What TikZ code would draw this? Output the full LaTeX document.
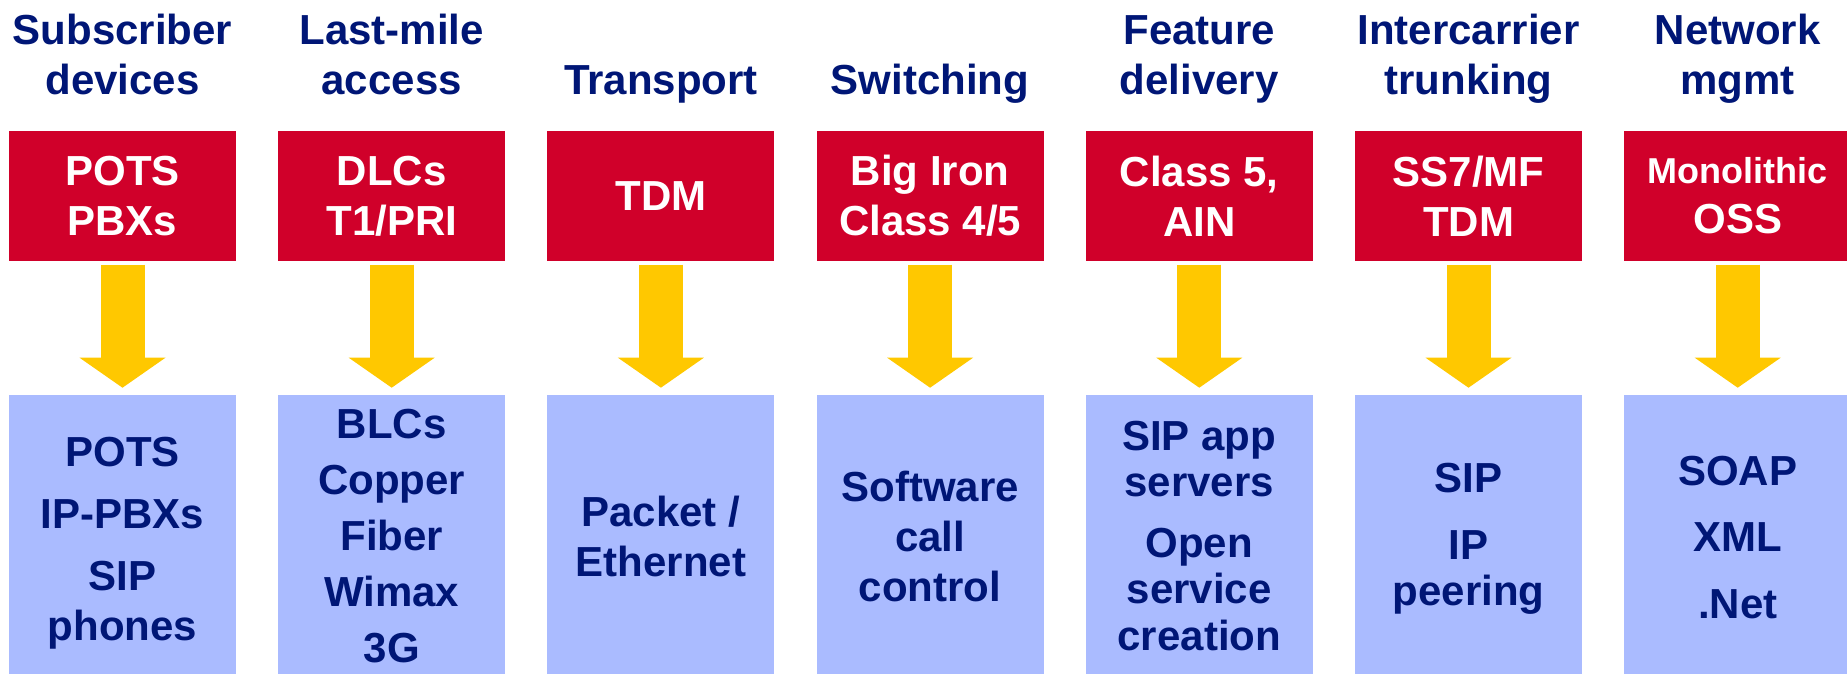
\documentclass[tikz,border=0pt]{standalone}
\usepackage{fontspec}
\setmainfont{Liberation Sans}
\usetikzlibrary{positioning,arrows.meta}

\definecolor{oldred}{RGB}{208,0,42}
\definecolor{newblue}{RGB}{170,187,255}
\definecolor{navy}{RGB}{0,22,118}
\definecolor{gold}{RGB}{255,200,0}

\begin{document}
\begin{tikzpicture}[x=1pt,y=-1pt,
		oldbox/.style={rectangle, fill=oldred, text=white, minimum width=227pt, minimum height=129pt, inner sep=0pt, align=center, font=\fontsize{42}{50}\selectfont\bfseries},
		newbox/.style={rectangle, fill=newblue, minimum width=227pt, minimum height=280pt, inner sep=0pt},
		heading/.style={anchor=base, inner sep=0pt, text=navy, align=center, font=\fontsize{42}{50}\selectfont\bfseries},
		entries/.style={heading},
		migrate/.style={color=gold, line width=44pt, -{Triangle[width=86pt,length=30pt,line width=0pt]}, shorten <=4pt, shorten >=7pt}]

		\useasboundingbox (0,0) rectangle (1847,674);

		% legacy row %
		\node[oldbox] (r1) at (122.5,196) {POTS\\PBXs};
		\node[oldbox, right=41.8pt of r1] (r2) {DLCs\\T1/PRI};
		\node[oldbox, right=41.8pt of r2] (r3) {TDM};
		\node[oldbox, right=41.8pt of r3] (r4) {Big Iron\\Class 4/5};
		\node[oldbox, right=41.8pt of r4] (r5) {Class 5,\\AIN};
		\node[oldbox, right=41.8pt of r5] (r6) {SS7/MF\\TDM};
		\node[oldbox, right=41.8pt of r6] (r7) {{\fontsize{36}{50}\selectfont Monolithic}\\OSS};

		% next-gen row %
		\node[newbox, below=134pt of r1] (b1) {};
		\node[newbox, below=134pt of r2] (b2) {};
		\node[newbox, below=134pt of r3] (b3) {};
		\node[newbox, below=134pt of r4] (b4) {};
		\node[newbox, below=134pt of r5] (b5) {};
		\node[newbox, below=134pt of r6] (b6) {};
		\node[newbox, below=134pt of r7] (b7) {};

		% column titles (base = last line) %
		\node[heading] (h1) at (r1.north |- 0,94.5) {Subscriber\\devices};
		\node[heading] (h2) at (r2.north |- 0,94.5) {Last-mile\\access};
		\node[heading] (h3) at (r3.north |- 0,94.5) {Transport};
		\node[heading] (h4) at (r4.north |- 0,94.5) {Switching};
		\node[heading] (h5) at (r5.north |- 0,94.5) {Feature\\delivery};
		\node[heading] (h6) at (r6.north |- 0,94.5) {Intercarrier\\trunking};
		\node[heading] (h7) at (r7.north |- 0,94.5) {Network\\mgmt};

		% box contents %
		\node[entries] (t1) at (b1.north |- 0,640.5) {POTS\\[12pt]IP-PBXs\\[12pt]SIP\\phones};
		\node[entries] (t2) at (b2.north |- 0,662) {BLCs\\[6pt]Copper\\[6pt]Fiber\\[6pt]Wimax\\[6pt]3G};
		\node[entries] (t3) at (b3.north |- 0,576) {Packet /\\Ethernet};
		\node[entries] (t4) at (b4.north |- 0,601) {Software\\call\\control};
		\node[entries] (t5) at (b5.north |- 0,650) {SIP app\\[-4pt]servers\\[11pt]Open\\[-4pt]service\\[-3pt]creation};
		\node[entries] (t6) at (b6.north |- 0,605) {SIP\\[17pt]IP\\[-4pt]peering};
		\node[entries] (t7) at (b7.north |- 0,618) {SOAP\\[16.5pt]XML\\[16.5pt].Net};

		% arrows %
		\draw[migrate] (r1) -- (b1);
		\draw[migrate] (r2) -- (b2);
		\draw[migrate] (r3) -- (b3);
		\draw[migrate] (r4) -- (b4);
		\draw[migrate] (r5) -- (b5);
		\draw[migrate] (r6) -- (b6);
		\draw[migrate] (r7) -- (b7);

	\end{tikzpicture}
\end{document}
